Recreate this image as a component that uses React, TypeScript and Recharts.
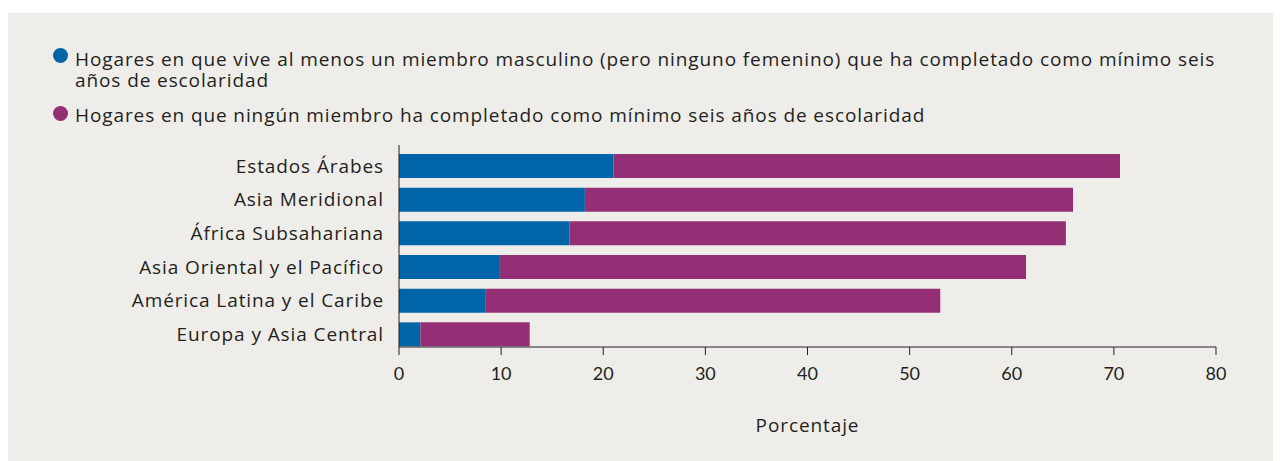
import React from 'react';
import { BarChart, Bar, XAxis, YAxis } from 'recharts';

const categories = [
  'Estados Árabes',
  'Asia Meridional',
  'África Subsahariana',
  'Asia Oriental y el Pacífico',
  'América Latina y el Caribe',
  'Europa y Asia Central',
];
// blue segment: at least one male member with 6+ years of school (no female)
const masculino = [21.0, 18.2, 16.7, 9.8, 8.5, 2.1];
// purple segment: no member with 6+ years of school
const ninguno = [49.6, 47.8, 48.6, 51.6, 44.5, 10.7];
const xTicks = [0, 10, 20, 30, 40, 50, 60, 70, 80];

const BLUE = '#0064a9';
const PURPLE = '#942f75';
const INK = '#231f20';
const FONT = '"Open Sans", "Noto Sans", sans-serif';
const TICK_FONT = 'Lato, sans-serif';
const SPACING = '0.9px';

const data = categories.map((name, i) => ({ name, masculino: masculino[i], ninguno: ninguno[i] }));

const Dot: React.FC<{ color: string; top: number }> = ({ color, top }) => (
  <div
    style={{
      position: 'absolute',
      left: 46,
      top,
      width: 15,
      height: 15,
      borderRadius: '50%',
      background: color,
    }}
  />
);

const Item: React.FC<{ top: number; children: React.ReactNode }> = ({ top, children }) => (
  <div
    style={{
      position: 'absolute',
      left: 68,
      top,
      width: 1170,
      fontSize: 19,
      lineHeight: '21px',
      letterSpacing: SPACING,
    }}
  >
    {children}
  </div>
);

export default function App() {
  return (
    <div
      style={{
        position: 'relative',
        width: 1266,
        height: 448,
        marginTop: 5,
        marginLeft: -1,
        background: '#efedea',
        fontFamily: FONT,
        color: INK,
      }}
    >
      {/* legend */}
      <Dot color={BLUE} top={35} />
      <Item top={36}>
        Hogares en que vive al menos un miembro masculino (pero ninguno femenino) que ha completado como mínimo seis años de escolaridad
      </Item>
      <Dot color={PURPLE} top={93} />
      <Item top={92}>Hogares en que ningún miembro ha completado como mínimo seis años de escolaridad</Item>

      <BarChart
        width={1266}
        height={448}
        data={data}
        layout="vertical"
        margin={{ top: 132, right: 57, bottom: 24, left: 0 }}
        barSize={24}
      >
        <XAxis
          type="number"
          domain={[0, 80]}
          ticks={xTicks}
          interval={0}
          height={90}
          stroke={INK}
          tickSize={8}
          tickMargin={12}
          tick={{ fill: INK, fontSize: 18, fontFamily: TICK_FONT }}
          label={{
            value: 'Porcentaje',
            position: 'insideBottom',
            offset: 5,
            fill: INK,
            fontSize: 19,
            fontFamily: FONT,
            style: { letterSpacing: SPACING },
          }}
        />
        <YAxis
          type="category"
          dataKey="name"
          width={392}
          stroke={INK}
          tickLine={false}
          tickSize={0}
          tickMargin={15}
          padding={{ top: 4, bottom: -4 }}
          tick={{ fill: INK, fontSize: 19, fontFamily: FONT, style: { letterSpacing: SPACING } }}
        />
        <Bar dataKey="masculino" stackId="a" fill={BLUE} isAnimationActive={false} />
        <Bar dataKey="ninguno" stackId="a" fill={PURPLE} isAnimationActive={false} />
      </BarChart>
    </div>
  );
}
